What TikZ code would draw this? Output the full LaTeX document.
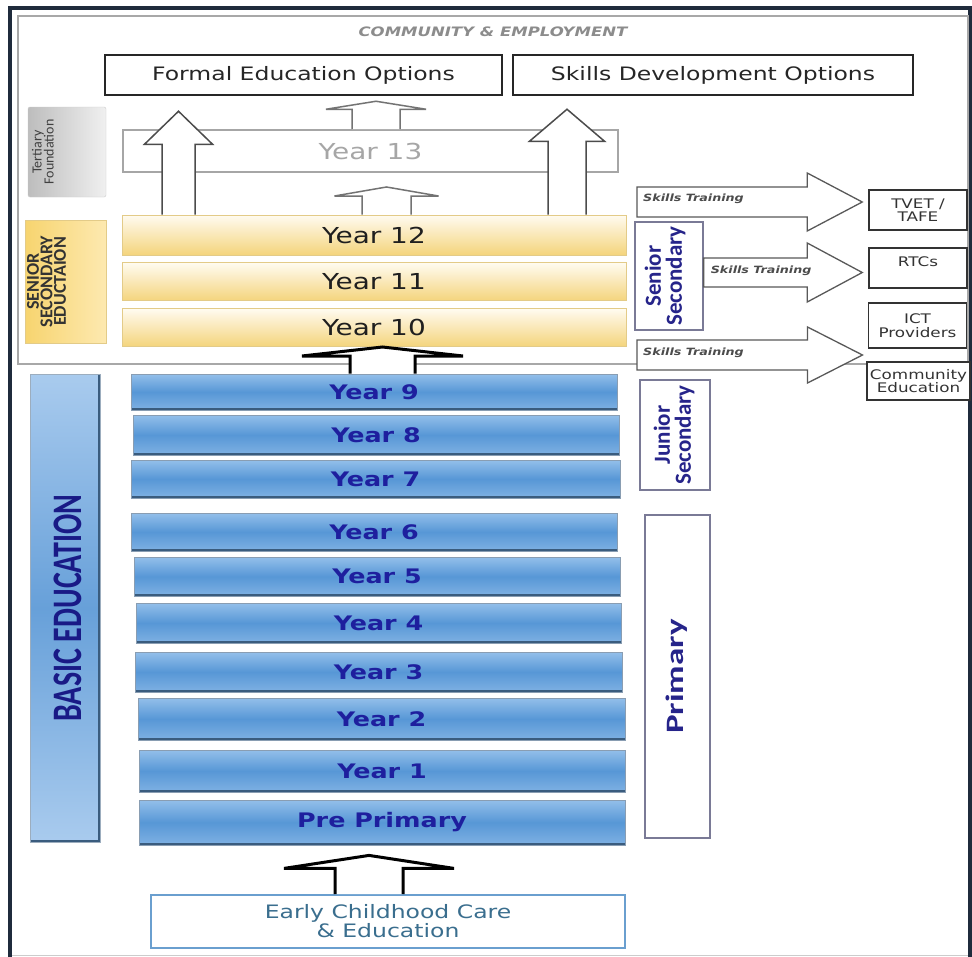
\documentclass[tikz,border=0pt]{standalone}
\usepackage{fontspec}
\setmainfont{DejaVu Sans}
\newfontfamily\calib{Carlito}
\usepackage{graphicx}
\usetikzlibrary{positioning,calc}

\definecolor{navy}{HTML}{1F2B3C}
\definecolor{framegray}{HTML}{A8A8A8}
\definecolor{bluetop}{HTML}{93BFEA}
\definecolor{bluemid}{HTML}{5797D6}
\definecolor{bluebot}{HTML}{7FB1E3}
\definecolor{bluedge}{HTML}{3A5C7E}
\definecolor{bluetext}{HTML}{1E1F9E}
\definecolor{basiclight}{HTML}{A9CBEE}
\definecolor{basicmid}{HTML}{67A0D9}
\definecolor{goldtop}{HTML}{FFFBF0}
\definecolor{goldbot}{HTML}{F4D47C}
\definecolor{goldedge}{HTML}{E3CB88}
\definecolor{ssdark}{HTML}{F7D46F}
\definecolor{sslight}{HTML}{FDE9B0}
\definecolor{tertdark}{HTML}{BDBDBD}
\definecolor{tertlight}{HTML}{F0F0F0}
\definecolor{stageline}{HTML}{7A7A96}
\definecolor{labelblue}{HTML}{26248A}
\definecolor{tealtext}{HTML}{3A6E8E}
\definecolor{eccline}{HTML}{6A9FCF}

% text in the source picture is stretched sideways
\newcommand{\wide}[1]{\scalebox{1.27}[1]{#1}}

% upward block arrow: style, x, base, tip, shaft half, head half, head length
\newcommand{\upblock}[7]{%
  \draw[#1] let \p1=(#2,0 |- #3), \p2=(#2,0 |- #4) in
    (\x1-#5pt,\y1) -- (\x1-#5pt,\y2-#7pt) -- (\x1-#6pt,\y2-#7pt) -- (\x1,\y2)
    -- (\x1+#6pt,\y2-#7pt) -- (\x1+#5pt,\y2-#7pt) -- (\x1+#5pt,\y1);}

% rightward block arrow: style, start, tip, shaft half, head half, head length
\newcommand{\rightblock}[6]{%
  \draw[#1] let \p1=(#2 |- #3), \p2=(#3) in
    (\x1,\y2+#4pt) -- (\x2-#6pt,\y2+#4pt) -- (\x2-#6pt,\y2+#5pt) -- (\x2,\y2)
    -- (\x2-#6pt,\y2-#5pt) -- (\x2-#6pt,\y2-#4pt) -- (\x1,\y2-#4pt) -- cycle;}

\begin{document}
\begin{tikzpicture}[x=1pt, y=-1pt,
  optbox/.style={draw=black!85, line width=2.5pt, fill=white, inner sep=0pt, minimum height=40pt, font=\fontsize{18.5}{20}\selectfont, text=black!85},
  goldyear/.style={draw=goldedge, line width=0.8pt, top color=goldtop, bottom color=goldbot, inner sep=0pt, minimum width=504pt, font=\fontsize{22}{24}\selectfont, text=black!88},
  blueyear/.style={draw=bluedge!60, line width=0.8pt, top color=bluetop, bottom color=bluebot, middle color=bluemid, inner sep=0pt, text=bluetext, font=\bfseries\fontsize{20}{22}\selectfont,
    path picture={\draw[bluedge, line width=5pt] (path picture bounding box.south west) -- (path picture bounding box.south east);}},
  stagebox/.style={draw=stageline, line width=1.2pt, fill=white, inner sep=0pt},
  stagetxt/.style={rotate=90, font=\calib\bfseries\fontsize{23}{21}\selectfont, text=labelblue, align=center, inner sep=0pt},
  provbox/.style={draw=black!80, line width=1.5pt, fill=white, inner sep=0pt, minimum width=98pt, align=center, font=\fontsize{13.2}{13.5}\selectfont, text=black!80},
  bigarr/.style={draw=black!70, line width=1.5pt, fill=white},
  thinarr/.style={draw=black!55, line width=1.5pt, fill=white},
  darkarr/.style={draw=black, line width=3pt, fill=white},
  skillarr/.style={draw=black!65, line width=1.3pt, fill=white},
  skilltxt/.style={font=\bfseries\itshape\fontsize{10}{12}\selectfont, text=black!70, inner sep=0pt}
]
  \useasboundingbox (0,0) rectangle (972,956);
  \draw[navy, line width=4pt] (10,960) -- (10,8) -- (970,8) -- (970,960);
  \draw[black!20, line width=1pt] (12,955) -- (968,955);

  % community & employment
  \node[draw=framegray, line width=1.5pt, fill=white, inner sep=0pt, minimum width=950pt, minimum height=348pt] (commbox) at (493,190) {};
  \node[font=\bfseries\itshape\fontsize{13}{14}\selectfont, text=black!45, inner sep=0pt, below=11pt of commbox.north] (commlbl) {\wide{COMMUNITY \& EMPLOYMENT}};
  \node[optbox, minimum width=397pt] (formal) at (303.5,75) {\wide{Formal Education Options}};
  \node[optbox, minimum width=400pt] (skilldev) at (713,75) {\wide{Skills Development Options}};

  \node[draw=black!20, rounded corners=2pt, left color=tertdark, right color=tertlight, minimum width=78pt, minimum height=90pt, inner sep=0pt] (tert) at (67,152) {};
  \node[rotate=90, anchor=north, align=center, inner sep=1pt, font=\calib\fontsize{14}{12}\selectfont, text=black!75] (tertlbl) at ([xshift=3pt]tert.west) {Tertiary\\Foundation};
  \node[draw=goldedge, left color=ssdark, right color=sslight, minimum width=81pt, minimum height=123pt, inner sep=0pt] (ssedu) at (65.5,281.5) {};
  \node[rotate=90, anchor=north, align=center, inner sep=1pt, font=\calib\bfseries\fontsize{18}{13.5}\selectfont, text=black!80] (ssedulbl) at ([xshift=1pt]ssedu.west) {SENIOR\\SECONDARY\\EDUCTAION};

  % senior years
  \node[draw=black!35, line width=2pt, fill=white, minimum width=495pt, minimum height=42pt, inner sep=0pt, font=\fontsize{22}{24}\selectfont, text=black!35] (y13) at (370.5,151) {\wide{Year 13}};
  \node[goldyear, minimum height=40pt] (y12) at (374,235) {\wide{Year 12}};
  \node[goldyear, minimum height=38pt, below=7pt of y12] (y11) {\wide{Year 11}};
  \node[goldyear, minimum height=38pt, below=7pt of y11] (y10) {\wide{Year 10}};

  \coordinate (tipfe) at ([yshift=-15pt]formal.south);
  \coordinate (tipsd) at ([yshift=-13pt]skilldev.south);
  \coordinate (tipup) at ([yshift=-5pt]formal.south);
  \coordinate (tipmid) at ([yshift=-14pt]y13.south);
  \upblock{bigarr}{178.5}{y12.north}{tipfe}{16.5}{34}{33}
  \upblock{bigarr}{567}{y12.north}{tipsd}{19}{37.5}{32}
  \upblock{thinarr}{376}{y13.north}{tipup}{24}{50}{8}
  \upblock{thinarr}{386.5}{y12.north}{tipmid}{24.5}{52}{9}

  % stages
  \node[stagebox, minimum width=68pt, minimum height=108pt] (sensec) at (669,276) {};
  \node[stagetxt] (sensectxt) at ([xshift=-4pt]sensec.center) {Senior\\Secondary};
  \node[stagebox, minimum width=70pt, minimum height=110pt] (junior) at (675,435) {};
  \node[stagetxt] (juniortxt) at ([xshift=-1pt]junior.center) {Junior\\Secondary};
  \node[stagebox, minimum width=65pt, minimum height=323pt] (primary) at (677.5,676.5) {};
  \node[stagetxt, font=\calib\bfseries\fontsize{25}{25}\selectfont] (primarytxt) at ([xshift=-1pt]primary.center) {\scalebox{1.4}[1]{Primary}};

  % providers
  \node[provbox, minimum height=40pt] (tvet) at (918,210) {\wide{TVET /}\\\wide{TAFE}};
  \node[provbox, minimum height=40pt] (rtcs) at (918,268) {\wide{RTCs}\\\mbox{}};
  \node[provbox, minimum height=45pt] (ict) at (917.5,325.5) {\wide{ICT}\\\wide{Providers}};
  \node[provbox, minimum width=103pt, minimum height=38pt] (comm) at (918.5,381) {\wide{Community}\\\wide{Education}};

  \coordinate (st1) at (637,202);
  \coordinate (tip1) at ([xshift=-6pt,yshift=8pt]tvet.west);
  \coordinate (tip2) at ([xshift=-6pt,yshift=-4.5pt]rtcs.west);
  \coordinate (st2) at (sensec.east |- tip2);
  \coordinate (st3) at (637,355);
  \coordinate (tip3) at ($(ict.south west)!0.5!(comm.north west)+(-4.5pt,0)$);
  \rightblock{skillarr}{st1}{tip1}{15}{29}{55}
  \rightblock{skillarr}{st2}{tip2}{14.5}{29.5}{55}
  \rightblock{skillarr}{st3}{tip3}{15}{28}{55}
  \node[skilltxt, anchor=west] (sk1) at ([xshift=6pt,yshift=3pt]st1) {\wide{Skills Training}};
  \node[skilltxt, anchor=west] (sk2) at ([xshift=7pt,yshift=2pt]st2) {\wide{Skills Training}};
  \node[skilltxt, anchor=west] (sk3) at ([xshift=6pt,yshift=2pt]st3) {\wide{Skills Training}};

  % basic education
  \node[draw=bluedge!50, top color=basiclight, bottom color=basiclight, middle color=basicmid, minimum width=70pt, minimum height=468pt, inner sep=0pt,
    path picture={\draw[bluedge, line width=4pt] (path picture bounding box.north east) -- (path picture bounding box.south east) -- (path picture bounding box.south west);}] (basic) at (65,608) {};
  \node[rotate=90, inner sep=0pt, font=\calib\bfseries\fontsize{30}{30}\selectfont, text=bluetext!85!black] (basiclbl) at ([xshift=3pt]basic.center) {\scalebox{1}[1.4]{BASIC EDUCATION}};

  \node[blueyear, minimum width=486pt, minimum height=36pt] (y9) at (374,392) {\wide{Year 9}};
  \node[blueyear, minimum width=486pt, minimum height=40pt] (y8) at (376,435) {\wide{Year 8}};
  \node[blueyear, minimum width=489pt, minimum height=38pt] (y7) at (375.5,479) {\wide{Year 7}};
  \node[blueyear, minimum width=486pt, minimum height=38pt] (y6) at (374,532) {\wide{Year 6}};
  \node[blueyear, minimum width=486pt, minimum height=39pt] (y5) at (377,576.5) {\wide{Year 5}};
  \node[blueyear, minimum width=485pt, minimum height=40pt] (y4) at (378.5,623) {\wide{Year 4}};
  \node[blueyear, minimum width=487pt, minimum height=40pt] (y3) at (378.5,672) {\wide{Year 3}};
  \node[blueyear, minimum width=487pt, minimum height=42pt] (y2) at (381.5,719) {\wide{Year 2}};
  \node[blueyear, minimum width=486pt, minimum height=42pt] (y1) at (382,771) {\wide{Year 1}};
  \node[blueyear, minimum width=486pt, minimum height=45pt] (pp) at (382,822.5) {\wide{Pre Primary}};

  \node[draw=eccline, line width=2pt, fill=white, minimum width=474pt, minimum height=53pt, inner sep=0pt, align=center, font=\fontsize{18.5}{19}\selectfont, text=tealtext] (ecce) at (388,921.5) {\wide{Early Childhood Care}\\\wide{\& Education}};

  \coordinate (tipecce) at ([yshift=-10pt]pp.south);
  \upblock{darkarr}{382.5}{y9.north}{y10.south}{32.5}{80.5}{9}
  \upblock{darkarr}{369}{ecce.north}{tipecce}{34}{85}{13}
\end{tikzpicture}
\end{document}
